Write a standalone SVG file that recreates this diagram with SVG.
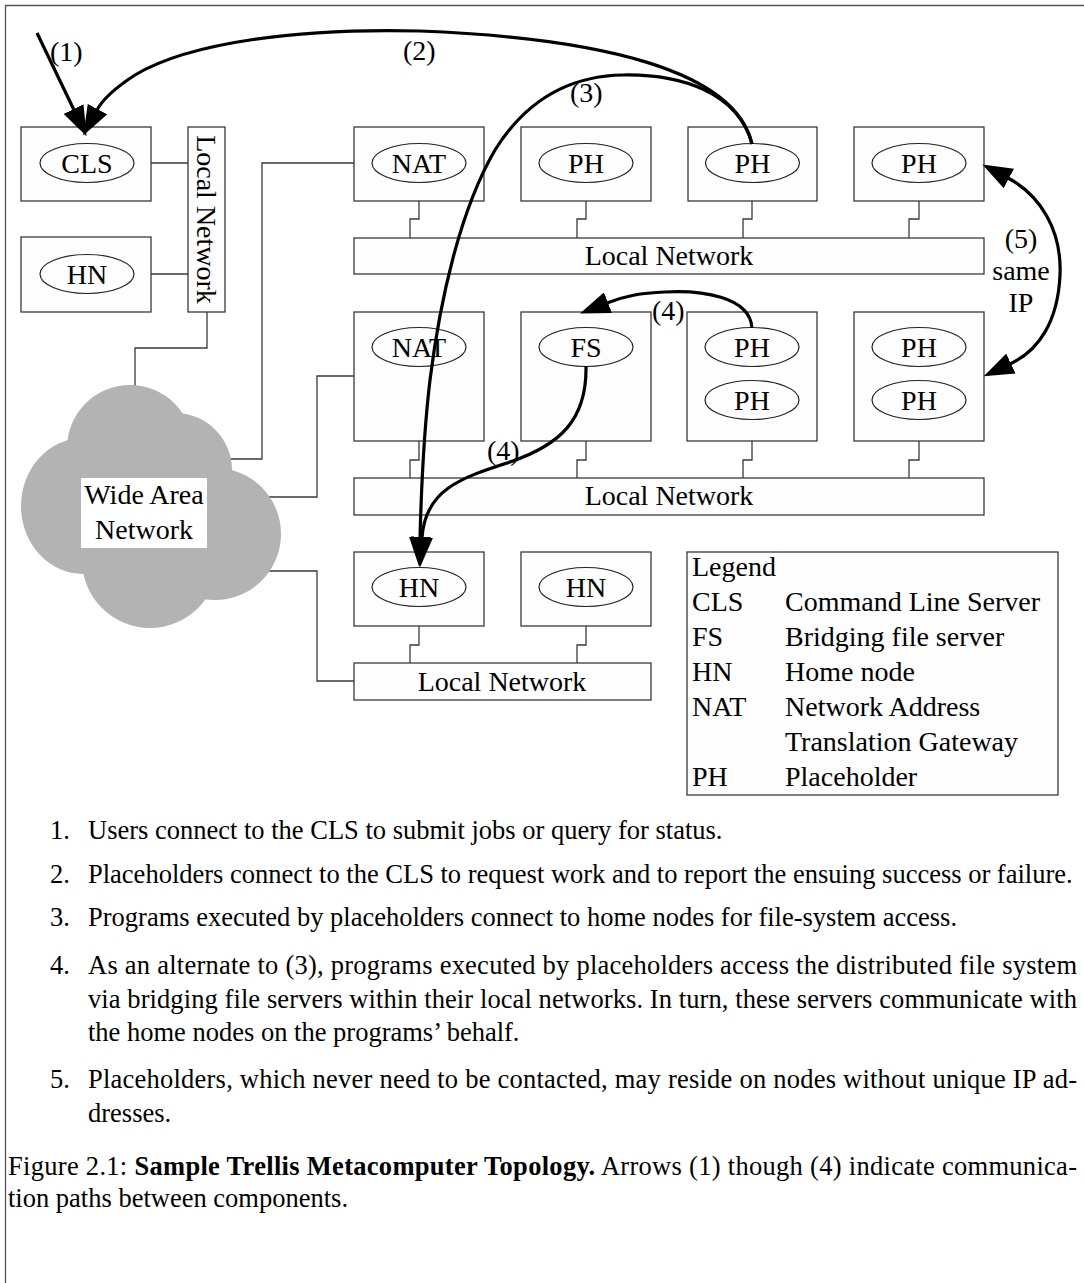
<svg xmlns="http://www.w3.org/2000/svg" width="1084" height="1283" viewBox="0 0 1084 1283">
  <style>
    .box { fill: #fdfdfd; stroke: #3a3a3a; stroke-width: 1.3; }
    .ell { fill: none; stroke: #222; stroke-width: 1.2; }
    .lbl { font-family: "Liberation Serif", "Times New Roman", serif; font-size: 28px; fill: #000; text-anchor: middle; }
    .leg { font-family: "Liberation Serif", "Times New Roman", serif; font-size: 28px; fill: #000; }
    .body { font-family: "Liberation Serif", "Times New Roman", serif; font-size: 26.5px; fill: #000; }
    .wire { fill: none; stroke: #3a3a3a; stroke-width: 1.3; }
    .arrow { fill: none; stroke: #000; stroke-width: 3.2; }
    .cloud { fill: #b3b3b3; }
  </style>
  <defs>
    <marker id="head" viewBox="0 0 30 22" markerUnits="userSpaceOnUse" markerWidth="30" markerHeight="22" refX="1" refY="11" orient="auto-start-reverse">
      <path d="M0,0 L30,11 L0,22 z" fill="#000"/>
    </marker>
  </defs>

  <rect width="1084" height="1283" fill="#fff"/>
  <!-- page frame -->
  <path d="M1084,5.5 H5.5 V1283" fill="none" stroke="#555" stroke-width="1.3"/>

  <!-- network wiring -->
  <g id="wires">
    <path class="wire" d="M151,163 H188 M151,274 H188"/>
    <path class="wire" d="M207,312 V348 H135 V386"/>
    <path class="wire" d="M354,163 H262 V459 H230"/>
    <path class="wire" d="M354,376 H317 V497 H268"/>
    <path class="wire" d="M268,571 H317 V681 H354"/>
    <!-- top row drops -->
    <path class="wire" d="M419,201 V219 H410 V238 M586,201 V219 H577 V238 M752,201 V219 H743 V238 M919,201 V219 H909 V238"/>
    <!-- middle row drops -->
    <path class="wire" d="M419,441 V460 H410 V478 M586,441 V460 H577 V478 M752,441 V460 H743 V478 M919,441 V460 H909 V478"/>
    <!-- bottom row drops -->
    <path class="wire" d="M419,626 V645 H410 V663 M586,626 V645 H577 V663"/>
  </g>

  <!-- wide area network cloud -->
  <g id="wan">
    <ellipse class="cloud" cx="150" cy="510" rx="85" ry="80"/>
    <circle class="cloud" cx="130" cy="448" r="63"/>
    <circle class="cloud" cx="175" cy="470" r="57"/>
    <circle class="cloud" cx="215" cy="534" r="66"/>
    <circle class="cloud" cx="150" cy="560" r="68"/>
    <ellipse class="cloud" cx="83" cy="506" rx="62" ry="68"/>
    <rect x="81" y="478" width="126" height="70" fill="#fff"/>
    <text class="lbl" x="144" y="504">Wide Area</text>
    <text class="lbl" x="144" y="539">Network</text>
  </g>

  <!-- left site -->
  <g id="cls">
    <rect class="box" x="21" y="127" width="130" height="74"/>
    <ellipse class="ell" cx="87" cy="163" rx="47" ry="19.5"/>
    <text class="lbl" x="87" y="172.5">CLS</text>
  </g>
  <g id="hn-left">
    <rect class="box" x="21" y="237" width="130" height="75"/>
    <ellipse class="ell" cx="87" cy="274" rx="47" ry="19.5"/>
    <text class="lbl" x="87" y="283.5">HN</text>
  </g>
  <g id="lan-left">
    <rect class="box" x="188" y="127" width="37" height="185"/>
    <text class="lbl" transform="translate(197,219.5) rotate(90)">Local Network</text>
  </g>

  <!-- top site -->
  <g id="nat-top">
    <rect class="box" x="354" y="127" width="130" height="74"/>
    <ellipse class="ell" cx="419" cy="163" rx="47" ry="19.5"/>
    <text class="lbl" x="419" y="172.5">NAT</text>
  </g>
  <g id="ph-top-1">
    <rect class="box" x="521" y="127" width="130" height="74"/>
    <ellipse class="ell" cx="586" cy="163" rx="47" ry="19.5"/>
    <text class="lbl" x="586" y="172.5">PH</text>
  </g>
  <g id="ph-top-2">
    <rect class="box" x="688" y="127" width="129" height="74"/>
    <ellipse class="ell" cx="752.5" cy="163" rx="47" ry="19.5"/>
    <text class="lbl" x="752.5" y="172.5">PH</text>
  </g>
  <g id="ph-top-3">
    <rect class="box" x="854" y="127" width="130" height="74"/>
    <ellipse class="ell" cx="919" cy="163" rx="47" ry="19.5"/>
    <text class="lbl" x="919" y="172.5">PH</text>
  </g>
  <g id="lan-top">
    <rect class="box" x="354" y="238" width="630" height="36"/>
    <text class="lbl" x="669" y="265">Local Network</text>
  </g>

  <!-- middle site -->
  <g id="nat-mid">
    <rect class="box" x="354" y="312" width="130" height="129"/>
    <ellipse class="ell" cx="419" cy="347" rx="47" ry="19.5"/>
    <text class="lbl" x="419" y="356.5">NAT</text>
  </g>
  <g id="fs-mid">
    <rect class="box" x="521" y="312" width="130" height="129"/>
    <ellipse class="ell" cx="586" cy="347" rx="47" ry="19.5"/>
    <text class="lbl" x="586" y="356.5">FS</text>
  </g>
  <g id="ph-mid-1">
    <rect class="box" x="687" y="312" width="130" height="129"/>
    <ellipse class="ell" cx="752" cy="347" rx="47" ry="19.5"/>
    <text class="lbl" x="752" y="356.5">PH</text>
    <ellipse class="ell" cx="752" cy="400" rx="47" ry="19.5"/>
    <text class="lbl" x="752" y="409.5">PH</text>
  </g>
  <g id="ph-mid-2">
    <rect class="box" x="854" y="312" width="130" height="129"/>
    <ellipse class="ell" cx="919" cy="347" rx="47" ry="19.5"/>
    <text class="lbl" x="919" y="356.5">PH</text>
    <ellipse class="ell" cx="919" cy="400" rx="47" ry="19.5"/>
    <text class="lbl" x="919" y="409.5">PH</text>
  </g>
  <g id="lan-mid">
    <rect class="box" x="354" y="478" width="630" height="37"/>
    <text class="lbl" x="669" y="505">Local Network</text>
  </g>

  <!-- bottom site -->
  <g id="hn-bot-1">
    <rect class="box" x="354" y="552" width="130" height="74"/>
    <ellipse class="ell" cx="419" cy="587" rx="47" ry="19.5"/>
    <text class="lbl" x="419" y="596.5">HN</text>
  </g>
  <g id="hn-bot-2">
    <rect class="box" x="521" y="552" width="130" height="74"/>
    <ellipse class="ell" cx="586" cy="587" rx="47" ry="19.5"/>
    <text class="lbl" x="586" y="596.5">HN</text>
  </g>
  <g id="lan-bot">
    <rect class="box" x="354" y="663" width="297" height="37"/>
    <text class="lbl" x="502" y="691">Local Network</text>
  </g>

  <!-- legend -->
  <g id="legend">
    <rect class="box" x="687" y="552" width="371" height="243"/>
    <text class="leg" x="692" y="576">Legend</text>
    <text class="leg" x="692" y="611">CLS</text><text class="leg" x="785" y="611">Command Line Server</text>
    <text class="leg" x="692" y="646">FS</text><text class="leg" x="785" y="646">Bridging file server</text>
    <text class="leg" x="692" y="681">HN</text><text class="leg" x="785" y="681">Home node</text>
    <text class="leg" x="692" y="716">NAT</text><text class="leg" x="785" y="716">Network Address</text>
    <text class="leg" x="785" y="751">Translation Gateway</text>
    <text class="leg" x="692" y="786">PH</text><text class="leg" x="785" y="786">Placeholder</text>
  </g>

  <!-- communication paths -->
  <g id="arrows">
    <path class="arrow" d="M37,33 L74,110" marker-end="url(#head)"/>
    <path class="arrow" d="M752,144 C735,70 600,38 420,31 C300,28 190,42 135,75 C118,86 104,97 97,110" marker-end="url(#head)"/>
    <path class="arrow" d="M752,144 C738,92 680,74 623,75 C560,76 520,110 495,150 C460,210 440,300 430,380 C424,430 421,500 420,538" marker-end="url(#head)"/>
    <path class="arrow" d="M586,366 C587,420 560,445 510,462 C460,478 425,490 422,538" marker-end="url(#head)"/>
    <path class="arrow" d="M752,328 C750,296 700,290 665,292 C640,293 625,296 607,303" marker-end="url(#head)"/>
    <path class="arrow" d="M1008,178 C1040,195 1062,230 1060,275 C1058,320 1040,350 1010,364" marker-start="url(#head)" marker-end="url(#head)"/>
    <text class="leg" x="50" y="61">(1)</text>
    <text class="leg" x="403" y="60">(2)</text>
    <text class="leg" x="570" y="102">(3)</text>
    <text class="leg" x="487" y="460">(4)</text>
    <text class="leg" x="652" y="320">(4)</text>
    <text class="lbl" x="1021" y="248">(5)</text>
    <text class="lbl" x="1021" y="280">same</text>
    <text class="lbl" x="1021" y="312">IP</text>
  </g>

  <!-- notes and caption -->
  <g id="notes">
    <text class="body" x="50" y="839">1.</text>
    <text class="body" x="88" y="839">Users connect to the CLS to submit jobs or query for status.</text>
    <text class="body" x="50" y="883">2.</text>
    <text class="body" x="88" y="883">Placeholders connect to the CLS to request work and to report the ensuing success or failure.</text>
    <text class="body" x="50" y="926">3.</text>
    <text class="body" x="88" y="926">Programs executed by placeholders connect to home nodes for file-system access.</text>
    <text class="body" x="50" y="974">4.</text>
    <text class="body" x="88" y="974" textLength="989" lengthAdjust="spacing">As an alternate to (3), programs executed by placeholders access the distributed file system</text>
    <text class="body" x="88" y="1008" textLength="989" lengthAdjust="spacing">via bridging file servers within their local networks. In turn, these servers communicate with</text>
    <text class="body" x="88" y="1041">the home nodes on the programs’ behalf.</text>
    <text class="body" x="50" y="1088">5.</text>
    <text class="body" x="88" y="1088" textLength="989" lengthAdjust="spacing">Placeholders, which never need to be contacted, may reside on nodes without unique IP ad-</text>
    <text class="body" x="88" y="1122">dresses.</text>
    <text class="body" x="8" y="1175" textLength="1069" lengthAdjust="spacing">Figure 2.1: <tspan font-weight="bold">Sample Trellis Metacomputer Topology.</tspan> Arrows (1) though (4) indicate communica-</text>
    <text class="body" x="8" y="1207">tion paths between components.</text>
  </g>
</svg>
